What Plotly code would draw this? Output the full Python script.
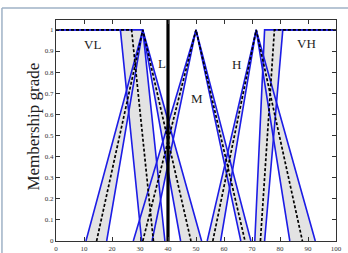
import plotly.graph_objects as go

# ---- data ----
VL_UPPER = [0, 31, 38.9]
VL_LOWER = [0, 23, 30.6]
VL_PRIMARY = [0, 27, 34.8]

L_UPPER = [10.7, 31, 52]
L_LOWER = [18.1, 31, 44.5]
L_PRIMARY = [14.5, 31, 48.2]

M_UPPER = [27.6, 50, 69.6]
M_LOWER = [34.3, 50, 66]
M_PRIMARY = [31, 50, 67.5]

H_UPPER = [54, 71.5, 92.6]
H_LOWER = [58.8, 71.5, 83.5]
H_PRIMARY = [56, 71.5, 88]

VH_UPPER = [71, 74.5, 100]
VH_LOWER = [74.5, 81, 100]
VH_PRIMARY = [73, 78, 100]

LEFT_SHOULDER_Y = [1, 1, 0]
TRIANGLE_Y = [0, 1, 0]
RIGHT_SHOULDER_Y = [0, 1, 1]

SET_LABELS = ["VL", "L", "M", "H", "VH"]
LABEL_X = [12.9, 37.8, 50.2, 64.6, 89.4]
LABEL_Y = [0.93, 0.84, 0.675, 0.835, 0.935]

CUT_X = 40
X_TICKS = [0, 10, 20, 30, 40, 50, 60, 70, 80, 90, 100]
Y_TICKS = [0, 0.1, 0.2, 0.3, 0.4, 0.5, 0.6, 0.7, 0.8, 0.9, 1]
Y_TICK_TEXT = ["0", "0.1", "0.2", "0.3", "0.4", "0.5", "0.6", "0.7", "0.8", "0.9", "1"]

sets = [
    (VL_UPPER, VL_LOWER, VL_PRIMARY, LEFT_SHOULDER_Y),
    (L_UPPER, L_LOWER, L_PRIMARY, TRIANGLE_Y),
    (M_UPPER, M_LOWER, M_PRIMARY, TRIANGLE_Y),
    (H_UPPER, H_LOWER, H_PRIMARY, TRIANGLE_Y),
    (VH_UPPER, VH_LOWER, VH_PRIMARY, RIGHT_SHOULDER_Y),
]

BLUE = "#1c1ce6"
GREY = "#e3e3e3"

fig = go.Figure()

# grey footprint of uncertainty
for up, lo, pr, ys in sets:
    fig.add_trace(go.Scatter(
        x=up + lo[::-1], y=ys + ys[::-1], mode="lines",
        fill="toself", fillcolor=GREY, line=dict(width=0),
        hoverinfo="skip", showlegend=False))

# upper and lower MFs
for up, lo, pr, ys in sets:
    for xs in (up, lo):
        fig.add_trace(go.Scatter(
            x=xs, y=ys, mode="lines", line=dict(color=BLUE, width=1.6),
            showlegend=False, hoverinfo="skip"))

# primary MFs
for up, lo, pr, ys in sets:
    fig.add_trace(go.Scatter(
        x=pr, y=ys, mode="lines",
        line=dict(color="black", width=1.7, dash="3px,2px"),
        showlegend=False, hoverinfo="skip"))

# vertical cut line
fig.add_trace(go.Scatter(
    x=[CUT_X, CUT_X], y=[0, 1.06], mode="lines",
    line=dict(color="black", width=3.2), showlegend=False,
    hoverinfo="skip", cliponaxis=False))

for t, lx, ly in zip(SET_LABELS, LABEL_X, LABEL_Y):
    fig.add_annotation(x=lx, y=ly, text=t, showarrow=False,
                       font=dict(family="Liberation Serif", size=13, color="#222"))

fig.add_annotation(xref="paper", yref="paper", x=-0.121, y=0.516,
                   text="Membership grade", textangle=-90, showarrow=False,
                   font=dict(family="Liberation Serif", size=17, color="#222"))

# outer frame (screenshot border)
fig.add_shape(type="line", xref="paper", yref="paper",
              x0=-0.193, x1=1.05, y0=1.054, y1=1.054,
              line=dict(color="#9fb2c6", width=1.5))
fig.add_shape(type="line", xref="paper", yref="paper",
              x0=-0.193, x1=-0.193, y0=-0.06, y1=1.054,
              line=dict(color="#9fb2c6", width=1.5))

axis_common = dict(showline=True, linecolor="#333", linewidth=1, mirror="ticks",
                   ticks="inside", ticklen=4, tickcolor="#333", showgrid=False,
                   zeroline=False, automargin=False,
                   tickfont=dict(family="Liberation Serif", size=7, color="#333"))

fig.update_xaxes(range=[0, 100], tickvals=X_TICKS, ticklabelstandoff=1, **axis_common)
fig.update_yaxes(range=[0, 1.047], tickvals=Y_TICKS, ticktext=Y_TICK_TEXT, **axis_common)

fig.update_layout(width=348, height=253, margin=dict(l=56, r=12, t=20, b=12),
                  paper_bgcolor="white", plot_bgcolor="white")

fig.write_html("out.html")
